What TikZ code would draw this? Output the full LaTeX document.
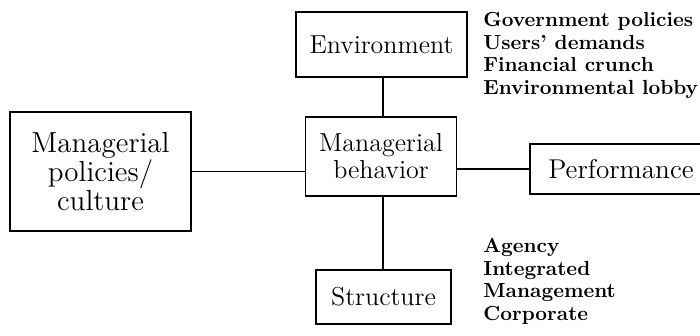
\documentclass[tikz,border=0pt]{standalone}
\usepackage{tikz}

\tikzset{
  block/.style={draw, thick, inner sep=0pt, align=center,
    font=\fontsize{13}{13.5}\selectfont},
  factors/.style={anchor=north west, align=left, inner sep=0pt,
    font=\fontsize{10.2}{11.3}\selectfont\bfseries}
}

\begin{document}
\begin{tikzpicture}[x=0.5pt, y=-0.5pt]
  % Page frame (pixel grid of the reference)
  \useasboundingbox (0,0) rectangle (700,336);

  % --- Boxes ---
  \node[block, minimum width=85.5pt, minimum height=32.5pt] (env) at (381.5,44.5) {Environment};
  \node[block, minimum width=75.5pt, minimum height=39.5pt] (mbeh) at (381,156.5) {Managerial\\behavior};
  \node[block, minimum width=90.5pt, minimum height=59.5pt,
    font=\fontsize{14.5}{14.5}\selectfont] (mpol) at (100.5,171.5) {Managerial\\policies/\\culture};
  \node[block, minimum width=91pt, minimum height=25pt,
    font=\fontsize{13.6}{14}\selectfont] (perf) at (621,169) {Performance};
  \node[block, minimum width=67.5pt, minimum height=27pt] (struc) at (383.5,297) {Structure};

  % --- Connectors ---
  \draw[thick] (env.south -| 383,0) -- (mbeh.north -| 383,0);
  \draw[thick] (mbeh.south -| 383,0) -- (struc.north -| 383,0);
  \draw[thick] (mpol.east) -- (mbeh.west |- mpol.east);
  \draw[thick] (mbeh.east |- perf.west) -- (perf.west);

  % --- Factor lists ---
  \node[factors] (envlist) at (483,12) {Government policies\\Users' demands\\Financial crunch\\Environmental lobby};
  \node[factors] (struclist) at (483,238) {Agency\\Integrated\\Management\\Corporate};
\end{tikzpicture}
\end{document}
